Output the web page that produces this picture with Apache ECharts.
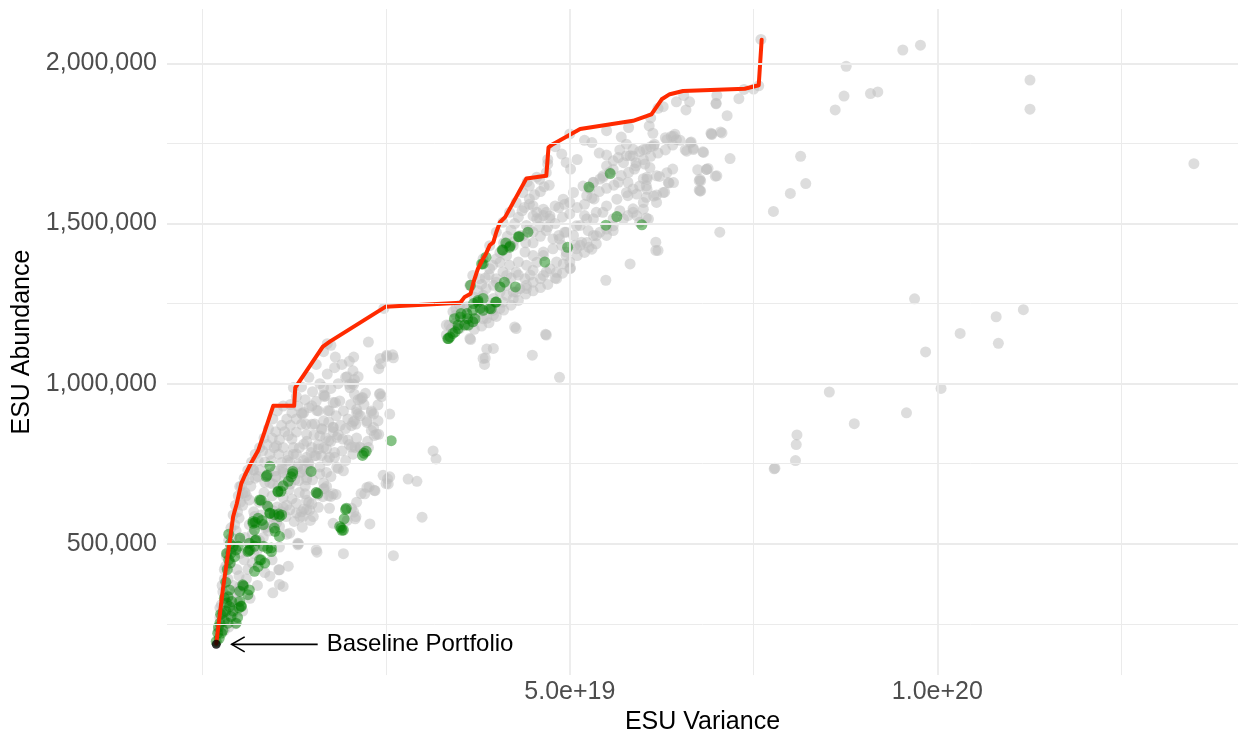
<!DOCTYPE html>
<html>
<head>
<meta charset="utf-8">
<script src="https://cdn.jsdelivr.net/npm/echarts@6/dist/echarts.min.js"></script>
<style>
html,body{margin:0;padding:0;background:#fff;}
#chart{width:1238px;height:740px;}
</style>
</head>
<body>
<div id="chart"></div>
<script>
// x values in units of 1e19 (ESU Variance), y values in thousands (ESU Abundance)
const xTickValues = [5, 10];
const yTickValues = [500, 1000, 1500, 2000];
const xMinorGrid = [0, 2.5, 7.5, 12.5];
const yMinorGrid = [250, 750, 1250, 1750];
const xTitle = "ESU Variance";
const yTitle = "ESU Abundance";
const annotationText = "Baseline Portfolio";

const baseline = [[0.19, 186]];

const frontier = [[0.19,188],[0.28,357],[0.37,502],[0.42,585],[0.47,626],[0.53,688],[0.58,714],[0.67,755],[0.76,791],[0.83,838],[0.965,931],[1.25,931],[1.265,988],[1.64,1116],[1.74,1132],[2.49,1240],[3.51,1253],[3.57,1271],[3.65,1281],[3.69,1317],[3.75,1359],[3.82,1390],[3.86,1406],[3.91,1432],[3.96,1442],[4.0,1473],[4.05,1504],[4.12,1520],[4.41,1641],[4.68,1649],[4.71,1738],[4.77,1748],[5.14,1795],[5.86,1821],[6.11,1841],[6.25,1888],[6.36,1904],[6.54,1914],[7.38,1921],[7.57,1932],[7.61,2074]];

const grayOutliers = [[7.60,2075],[9.53,2042],[9.77,2057],[8.76,1991],[11.26,1948],[11.26,1857],[8.73,1898],[9.09,1906],[9.19,1911],[8.61,1855],[7.37,1919],[7.57,1930],[6.99,1874],[7.14,1837],[6.93,1780],[7.05,1786],[6.82,1722],[7.18,1703],[8.14,1710],[6.86,1669],[6.98,1648],[6.78,1633],[6.78,1602],[8.21,1625],[8.0,1594],[7.77,1538],[7.04,1473],[13.49,1687],[9.69,1265],[10.80,1209],[11.17,1231],[10.31,1157],[10.83,1126],[9.84,1099],[10.05,985],[8.53,974],[9.58,909],[8.87,875],[8.09,840],[8.08,810],[8.07,760],[7.78,734],[7.79,736]];

const grayUpper = [[6.63,1880],[6.99,1876],[6.58,1855],[6.27,1865],[6.08,1805],[6.13,1782],[6.43,1779],[6.3,1768],[6.38,1772],[6.45,1762],[6.92,1782],[6.65,1755],[6.57,1730],[6.68,1735],[6.81,1724],[6.74,1668],[6.88,1672],[6.76,1634],[6.76,1605],[6.4,1670],[6.22,1647],[6.35,1627],[6.29,1598],[6.18,1589],[6.04,1618],[6.0,1640],[6.05,1645],[6.09,1675],[6.02,1686],[5.88,1670],[5.9,1690],[5.82,1712],[5.86,1732],[5.95,1725],[6.04,1732],[6.1,1740],[6.15,1748],[5.77,1748],[5.68,1730],[5.77,1712],[5.66,1706],[5.59,1696],[5.5,1680],[5.54,1660],[5.41,1639],[5.32,1629],[5.27,1608],[5.23,1587],[5.33,1577],[5.45,1644],[5.66,1629],[5.79,1629],[5.86,1608],[5.79,1587],[5.91,1592],[6.04,1582],[6.0,1566],[5.86,1546],[5.79,1525],[5.91,1525],[6.04,1517],[5.68,1540],[5.59,1515],[5.45,1535],[5.32,1515],[5.2,1525],[5.14,1494],[5.25,1478],[5.41,1473],[5.5,1463],[5.59,1478],[5.32,1463],[5.16,1442],[5.07,1432],[4.95,1411],[5.14,1432],[5.26,1426],[5.36,1437],[4.89,1717],[4.95,1691],[5.01,1670],[5.3,1753],[5.5,1714],[4.7,1686],[4.72,1620],[4.45,1577],[4.5,1555],[4.55,1535],[4.35,1540],[4.85,1550],[4.93,1560],[5.0,1566],[4.55,1515],[4.64,1525],[4.73,1515],[4.41,1494],[4.5,1473],[4.59,1490],[4.68,1478],[4.32,1463],[4.23,1442],[4.14,1432],[4.77,1452],[4.85,1463],[4.93,1473],[5.05,1463],[4.64,1411],[4.77,1421],[4.89,1432],[4.39,1411],[4.5,1400],[4.41,1370],[4.5,1354],[4.18,1370],[4.09,1349],[4.0,1328],[3.96,1307],[4.3,1339],[4.39,1328],[4.46,1339],[4.6,1328],[4.68,1349],[4.82,1328],[5.01,1361],[4.91,1374],[4.14,1307],[4.05,1286],[3.96,1266],[3.87,1245],[4.23,1286],[4.32,1297],[4.41,1297],[3.78,1224],[3.69,1204],[3.6,1183],[3.5,1172],[3.87,1204],[3.96,1214],[4.05,1235],[4.25,1177],[4.67,1154],[3.65,1138],[3.87,1108],[3.96,1110],[3.85,1080],[3.84,1060],[4.49,1089],[4.86,1020],[5.49,1323],[5.82,1374],[6.17,1416],[6.17,1442],[2.42,1079],[2.51,1089],[2.6,1081],[2.44,960],[3.32,1183],[3.39,1172],[3.41,1225],[3.45,1235],[3.5,1245],
[3.64,1307],[3.68,1338],[3.82,1390],[3.91,1431],[4.0,1473],[4.09,1504],[4.18,1535],[4.27,1566],[4.36,1597],[4.45,1617],[4.59,1638],[4.68,1659],
[3.77,1328],[3.91,1359],[4.05,1379],[4.14,1400],[4.23,1431],[4.36,1462],[4.45,1483],[4.59,1514],[4.68,1535],[4.8,1555],[4.91,1576],[5.05,1597],[5.18,1617],[5.32,1628],[5.45,1649],[5.59,1669],[5.73,1690],[5.86,1711],[6.0,1731],[6.14,1742],[6.32,1762],[6.41,1773],
[4.64,1545],[4.73,1524],[4.5,1524],
[3.86,1297],[4.0,1317],[4.14,1338],[4.27,1348],[4.55,1379],[4.64,1400],[4.86,1452],[4.95,1473],[5.09,1493],[5.23,1514],[5.36,1535],[5.5,1555],[5.64,1576],[5.77,1597],[5.95,1617],[6.05,1638],[6.18,1649],[6.34,1628],
[4.14,1276],[4.27,1286],[4.41,1307],[4.5,1317],[4.64,1338],[4.73,1359],[4.82,1380],[4.95,1400],[5.09,1421],[5.23,1441],[5.36,1462],[5.5,1483],[5.59,1493],[5.73,1514],[5.86,1535],[6.0,1545],
[4.27,1172],[4.68,1152],[6.2,1416],[5.95,1504],[6.07,1514],[7.0,1649],[6.77,1638],[6.77,1602],[6.86,1669],[6.68,1731],[6.59,1726],[6.64,1752],[6.93,1778],[7.07,1783],[6.32,1659],[6.41,1628],[6.27,1597],[6.14,1586],[6.18,1566],[6.05,1607],
[3.36,1183],[3.32,1152],[3.64,1141],[3.45,1214],[3.59,1234],[3.73,1255],[3.82,1276],[3.68,1193],[3.82,1203],[3.95,1229],[4.09,1255],[4.23,1265],[3.82,1079],[4.82,1348],[5.0,1359],
[4.42,1630],[4.55,1645],[4.7,1700],[4.8,1740],[5.0,1780],[5.2,1760],[5.5,1790],[5.8,1800],[6.1,1830],[6.2,1860],[6.45,1880],[6.55,1900],[7.0,1900],[7.3,1890],[7.5,1920],[5.7,1770],[5.4,1720],[5.1,1700],
[3.45,1190],[3.55,1200],[3.6,1240],[3.7,1270],[3.75,1290],[3.8,1310],[3.85,1330],[3.9,1340],[3.95,1370],[4.0,1390],[4.05,1410],[4.1,1440],[4.15,1460],[4.2,1480],[4.25,1500],[4.3,1520],[4.38,1550],[4.45,1560],[4.52,1590],[4.6,1600],[4.65,1615],
[3.7,1170],[3.8,1180],[3.9,1190],[4.0,1210],[4.1,1230],[4.2,1245],[4.3,1260],[4.4,1280],[4.5,1290],[4.6,1300],[4.7,1310],[4.8,1330],[4.9,1345],[5.0,1380],[5.1,1400],[5.2,1410],[5.3,1420],
[4.2,1330],[4.3,1380],[4.4,1440],[4.5,1440],[4.6,1460],[4.7,1490],[4.8,1500],[4.9,1520],[5.0,1530],[5.1,1550],[5.2,1560],[5.3,1580],[5.4,1600],[5.5,1610],[5.6,1620],[5.7,1650],[5.8,1660],[5.9,1680],[6.0,1700],[6.1,1710],[6.2,1720],[6.3,1730],[6.4,1745],[6.5,1760]];

const grayLower = [[0.22,230],[0.24,270],[0.26,310],[0.28,350],[0.3,390],[0.32,430],[0.34,470],[0.36,510],[0.39,550],[0.42,590],[0.45,620],[0.49,650],[0.53,680],[0.57,705],[0.62,730],[0.67,755],[0.72,780],[0.78,800],[0.84,830],[0.9,860],[0.96,890],[1.02,915],[1.1,930],[1.2,935],[1.28,960],[1.35,990],[1.45,1020],[1.55,1060],[1.65,1100],[1.75,1120],
[0.26,240],[0.29,290],[0.32,340],[0.35,390],[0.38,440],[0.42,490],[0.46,540],[0.5,580],[0.55,620],[0.6,650],[0.66,680],[0.72,705],[0.78,730],[0.85,755],[0.92,780],[0.98,800],[1.05,825],[1.12,850],[1.2,870],[1.28,890],[1.36,905],[1.45,925],[1.55,945],[1.65,965],[1.75,985],[1.85,1000],[1.95,1020],[2.05,1040],
[0.3,230],[0.34,270],[0.38,320],[0.42,370],[0.47,420],[0.52,470],[0.58,520],[0.64,560],[0.7,600],[0.77,630],[0.84,660],[0.92,690],[1.0,710],[1.08,735],[1.16,760],[1.24,780],[1.32,800],[1.42,820],[1.52,840],[1.62,860],[1.72,880],[1.82,900],[1.92,915],[2.02,935],[2.12,950],[2.22,970],
[0.36,240],[0.42,280],[0.48,320],[0.55,370],[0.62,420],[0.7,470],[0.78,510],[0.86,550],[0.94,585],[1.02,615],[1.1,645],[1.18,670],[1.26,700],[1.35,725],[1.45,750],[1.55,775],[1.65,800],[1.75,820],[1.85,840],[1.95,860],[2.05,880],[2.15,900],[2.3,910],
[0.45,250],[0.55,290],[0.65,330],[0.75,370],[0.85,410],[0.95,450],[1.05,490],[1.15,530],[1.25,570],[1.35,600],[1.45,630],[1.55,660],[1.65,690],[1.75,710],[1.85,735],[1.95,760],[2.05,780],[2.15,800],[2.25,820],
[0.24,300],[0.27,370],[0.3,420],[0.33,460],[0.37,480],[0.4,520],[0.44,560],[0.48,600],[0.52,630],[0.58,660],[0.63,700],[0.7,730],[0.76,760],[0.82,790],[0.88,810],[0.95,830],[1.0,850],[1.08,870],[1.15,890],[1.22,910],[1.3,930],[1.4,950],[1.5,975],[1.6,1000],[1.7,1030],[1.8,1050],[1.9,1060],[2.0,1070],
[0.4,300],[0.45,350],[0.5,400],[0.57,450],[0.63,500],[0.68,530],[0.74,560],[0.8,590],[0.88,620],[0.95,650],[1.03,680],[1.12,700],[1.2,720],[1.3,740],[1.38,760],[1.48,785],[1.58,810],[1.68,830],[1.78,850],[1.88,870],[1.98,890],[2.1,920],[2.2,935],
[0.5,350],[0.6,390],[0.68,440],[0.75,480],[0.83,520],[0.9,540],[0.98,570],[1.08,600],[1.15,620],[1.22,640],[1.32,660],[1.4,680],[1.5,700],[1.6,740],[1.7,760],[1.8,770],[1.9,790],[2.0,810],[2.1,830],
[2.26,1130],[1.81,1083],[2.06,1083],[2.43,1062],[2.51,1085],[2.59,1090],[2.40,1047],[1.97,1022],[2.12,1022],[2.06,998],[1.65,988],[1.24,988],[1.66,960],[2.17,955],[2.42,969],[2.39,934],[1.81,941],[1.49,931],[1.56,916],[1.71,916],[1.35,908],[1.41,874],[1.53,874],[1.78,864],[2.1,910],[2.33,905],[2.55,905],[2.03,869],[2.24,884],[2.3,854],[2.4,842],[1.17,838],[1.28,849],[1.7,1125],[2.47,1235],
[2.01,987],[2.04,1000],[2.07,1013],[1.67,962],[1.87,946],[1.73,915],[1.58,915],[1.38,910],[1.35,873],[1.49,873],[1.65,884],[1.63,858],[1.78,863],[1.83,832],[1.72,822],[1.6,837],[1.42,842],[1.22,827],[1.01,806],[1.1,801],[1.24,801],[1.38,811],[1.49,801],[1.58,796],[1.69,796],[1.8,785],[1.73,770],[1.62,775],[1.53,775],[1.42,770],[1.28,780],[1.17,775],[1.04,780],[0.94,759],[1.08,754],[1.19,754],[1.31,749],[1.44,754],[1.38,733],[1.24,728],[1.1,723],[0.99,728],[0.9,718],[0.85,692],[0.96,687],[1.2,687],[1.31,697],[1.42,707],[1.6,718],[1.69,723],[1.83,739],[1.92,728],[2.08,801],[1.98,824],[2.07,884],[2.24,879],[2.15,951],[2.33,863],[2.37,842],[2.26,801],
[2.52,703],[2.53,687],[2.8,702],[2.92,695],[3.14,790],[3.18,765],[2.99,583],[2.24,676],[2.35,666],[2.21,656],[2.1,630],[2.06,599],[2.08,578],[1.97,573],[2.28,562],[1.78,656],[1.72,650],[1.65,671],[1.4,656],[1.49,625],[1.58,614],[1.38,609],[1.33,583],[1.47,573],[1.36,552],[1.56,474],[1.92,469],[1.31,500],[1.1,614],[0.96,604],
[1.78,941],[2.0,998],[2.07,967],[2.18,957],[2.41,967],[2.39,884],[2.3,915],[2.12,905],[2.09,874],[2.34,838],[1.91,827],[2.14,802],[2.03,802],[2.55,709],[2.46,714],[2.5,688],[2.27,678],[2.34,667],[2.16,657],[2.03,611],[2.09,585],[1.78,564],[1.73,611],[1.64,647],[1.66,673],[1.57,652],[1.42,636],[1.46,605],[1.37,585],[1.3,502],[1.55,481],[2.6,463],[1.05,554],[1.17,430],[1.04,419],[0.92,399],[1.05,373],[0.96,347],[1.1,367],
[0.69,731],[0.76,710],[1.1,731],[1.0,710],[1.32,721],[1.46,731],[1.42,700],[1.69,679],[1.75,648],[1.82,654],[1.28,627],[1.19,606],[0.85,627],[0.71,585],[0.87,554],[1.01,565],[1.14,585],[1.28,596],[1.42,606],[1.51,585],[1.19,533],[1.3,497],[1.05,419],[0.51,679],[0.55,658],[0.64,637],[0.51,512],[0.51,367]];

const greenLower = [[0.19,195],[0.21,221],[0.24,252],[0.28,283],[0.33,315],[0.35,335],[0.37,304],[0.39,273],[0.26,221],[0.35,252],[0.37,356],[0.39,471],[0.42,492],[0.46,481],[0.44,460],[0.49,492],[0.51,518],[0.55,372],[0.64,356],[0.62,341],[0.53,304],[0.51,320],[0.46,252],[0.22,240],[0.25,280],[0.3,330],[0.32,380],[0.34,420],[0.36,450],[0.38,500],[0.3,260],[0.28,230],[0.23,205],[0.32,290],[0.4,320],[0.42,290],[0.48,270],[0.5,300],[0.33,470],[0.36,530],[0.38,440],
[0.69,570],[0.76,580],[0.83,560],[0.73,512],[0.64,502],[0.62,476],[0.71,492],[0.83,492],[0.89,486],[0.94,476],[0.98,549],[1.05,523],[0.8,450],[0.76,429],[0.71,414],[0.85,440],[0.98,591],[1.05,585],[0.89,617],[0.92,596],[0.87,710],[1.03,664],[1.07,664],[1.23,726],[1.17,695],[0.78,637],[1.55,660],[1.87,554],[0.92,742],[0.88,714],[1.03,662],[1.21,709],[1.23,719],[0.8,636],[1.08,590],[0.92,595],[0.69,564],[0.71,543],[0.65,481],[0.94,487],[0.78,450],[0.56,368],[0.51,352],[0.53,306],[1.48,726],[1.57,657],[1.96,611],[1.95,607],[1.89,549],[1.92,543],[2.18,776],[2.23,789],[2.57,822],[1.1,681],[1.93,578],[0.72,567],[0.81,573],[1.04,593],[0.99,539],[0.72,510],[0.63,479],[1.9,542],[2.2,783]];

const greenUpper = [[3.34,1141],[3.41,1157],[3.48,1172],[3.43,1203],[3.52,1219],[3.61,1203],[3.68,1229],[3.68,1193],[3.75,1255],[3.82,1229],[3.93,1234],[4.0,1255],[3.57,1183],[3.8,1374],[4.08,1418],[4.18,1426],[4.3,1459],[4.43,1473],[4.05,1302],[4.11,1317],[4.26,1302],[4.66,1380],[4.97,1426],[5.26,1614],[5.55,1656],[5.49,1495],[5.64,1522],[5.98,1496],[3.65,1307],[3.75,1260],[3.69,1250],[3.82,1266],[3.99,1255],[3.91,1235],[3.51,1208],[3.6,1219],[3.71,1203],[3.62,1183],[3.48,1183],[3.44,1162],[3.37,1146],[3.35,1141],[3.78,1235],[3.86,1395],[3.82,1374],[4.13,1439],[4.09,1417],[4.19,1430],[4.31,1459]];

const annotationArrow = [[1.57, 186, 0.40, 186]];

const FONT = '"Liberation Sans", Arial, Helvetica, sans-serif';
const chart = echarts.init(document.getElementById('chart'), null, {renderer: 'canvas'});

function gridLines(vals, axisKey, width) {
  return vals.map(v => ({[axisKey]: v, lineStyle: {width: width}}));
}

const option = {
  animation: false,
  backgroundColor: '#ffffff',
  grid: {left: 167, right: 0, top: 9, bottom: 61, containLabel: false},
  xAxis: {
    type: 'value', min: -0.48, max: 14.09,
    axisLine: {show: false}, axisTick: {show: false}, splitLine: {show: false},
    axisLabel: {
      customValues: xTickValues, color: '#4D4D4D', fontSize: 25, fontFamily: FONT, margin: 5,
      formatter: v => (v * 1e19).toExponential(1)
    },
    name: xTitle, nameLocation: 'middle', nameGap: 34,
    nameTextStyle: {color: '#000', fontSize: 25, fontFamily: FONT}
  },
  yAxis: {
    type: 'value', min: 90, max: 2170,
    axisLine: {show: false}, axisTick: {show: false}, splitLine: {show: false},
    axisLabel: {
      customValues: yTickValues, color: '#4D4D4D', fontSize: 25, fontFamily: FONT, margin: 10,
      formatter: v => (v * 1000).toLocaleString('en-US')
    },
    name: yTitle, nameLocation: 'middle', nameGap: 131, nameRotate: 90,
    nameTextStyle: {color: '#000', fontSize: 25, fontFamily: FONT}
  },
  series: [
    {
      type: 'line', data: [], z: 0, silent: true,
      markLine: {
        silent: true, symbol: ['none', 'none'], label: {show: false}, animation: false,
        lineStyle: {color: '#EBEBEB', type: 'solid'},
        data: [].concat(
          gridLines(xMinorGrid, 'xAxis', 1), gridLines(yMinorGrid, 'yAxis', 1),
          gridLines(xTickValues, 'xAxis', 1.8), gridLines(yTickValues, 'yAxis', 1.8)
        )
      }
    },
    {type: 'scatter', data: grayOutliers.concat(grayUpper, grayLower), symbolSize: 11, z: 2,
     itemStyle: {color: 'rgba(190,190,190,0.65)'}, silent: true},
    {type: 'scatter', data: greenLower.concat(greenUpper), symbolSize: 11, z: 3,
     itemStyle: {color: 'rgba(0,128,0,0.6)'}, silent: true},
    {type: 'line', data: frontier, z: 4, symbol: 'none', silent: true,
     lineStyle: {color: '#FF2A00', width: 4, join: 'round', cap: 'round'}},
    {type: 'scatter', data: baseline, symbolSize: 9, z: 5, itemStyle: {color: '#000'}, silent: true},
    {
      type: 'custom', z: 6, silent: true, data: annotationArrow,
      renderItem: function (params, api) {
        const tail = api.coord([api.value(0), api.value(1)]);
        const tip = api.coord([api.value(2), api.value(3)]);
        return {
          type: 'group',
          children: [
            {type: 'line', shape: {x1: tail[0], y1: tail[1], x2: tip[0], y2: tip[1]},
             style: {stroke: '#000', lineWidth: 1.6}},
            {type: 'polyline', shape: {points: [[tip[0] + 13, tip[1] - 7.5], [tip[0], tip[1]], [tip[0] + 13, tip[1] + 7.5]]},
             style: {stroke: '#000', lineWidth: 1.6, fill: null}},
            {type: 'text', x: tail[0] + 9, y: tail[1],
             style: {text: annotationText, fill: '#000', font: '24px ' + FONT, verticalAlign: 'middle', align: 'left'}}
          ]
        };
      }
    }
  ]
};
chart.setOption(option);
</script>
</body>
</html>
